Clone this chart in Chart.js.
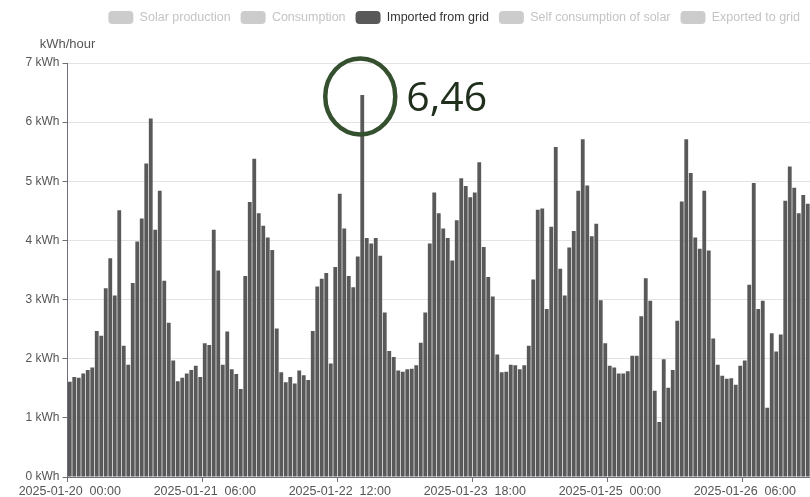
<!DOCTYPE html>
<html>
<head>
<meta charset="utf-8">
<title>Imported from grid</title>
<script src="https://cdn.jsdelivr.net/npm/chart.js@4.4.1/dist/chart.umd.min.js"></script>
<style>
  html, body { margin: 0; padding: 0; background: #fff; }
  #wrap { width: 810px; height: 497px; }
</style>
</head>
<body>
<div id="wrap"><canvas id="energyChart" width="810" height="497"></canvas></div>
<script>
// Hourly energy from 2025-01-20 00:00 (kWh per hour)
const seriesNames = ["Solar production", "Consumption", "Imported from grid", "Self consumption of solar", "Exported to grid"]

const importedFromGrid = [
  1.61, 1.69, 1.68, 1.75, 1.81, 1.85, 2.47, 2.39, 3.19, 3.70, 3.07, 4.51, 2.22, 1.90, 3.28, 3.98, 4.37, 5.30, 6.06, 4.18, 4.84, 3.32, 2.61, 1.97,
  1.62, 1.68, 1.75, 1.81, 1.88, 1.69, 2.26, 2.23, 4.18, 3.49, 1.90, 2.46, 1.82, 1.74, 1.49, 3.40, 4.65, 5.38, 4.46, 4.25, 4.05, 3.84, 2.51, 1.77,
  1.60, 1.69, 1.58, 1.80, 1.72, 1.64, 2.47, 3.22, 3.35, 3.45, 1.92, 3.55, 4.79, 4.20, 3.40, 3.21, 3.73, 6.46, 4.04, 3.95, 4.04, 3.74, 2.78, 2.13,
  2.03, 1.80, 1.78, 1.82, 1.83, 1.89, 2.27, 2.78, 3.95, 4.81, 4.46, 4.20, 4.04, 3.66, 4.34, 5.05, 4.92, 4.73, 4.81, 5.32, 3.89, 3.38, 3.05, 2.07,
  1.77, 1.78, 1.90, 1.89, 1.82, 1.89, 2.22, 3.34, 4.52, 4.54, 2.84, 4.23, 5.58, 3.52, 3.07, 3.88, 4.16, 4.84, 5.71, 4.93, 4.07, 4.28, 2.99, 2.26,
  1.88, 1.85, 1.75, 1.75, 1.79, 2.05, 2.05, 2.72, 3.36, 2.98, 1.46, 0.93, 1.99, 1.51, 1.81, 2.64, 4.66, 5.71, 5.14, 4.05, 3.86, 4.84, 3.83, 2.34,
  1.90, 1.71, 1.66, 1.67, 1.56, 1.88, 1.97, 3.25, 4.97, 2.84, 2.98, 1.17, 2.43, 2.12, 2.41, 4.67, 5.25, 4.89, 4.46, 4.77, 4.62
]

// the other series are switched off in the legend
const solarProduction = []
const consumption = []
const selfConsumption = []
const exportedToGrid = []

const tickLabels = ["2025-01-20  00:00", "2025-01-21  06:00", "2025-01-22  12:00", "2025-01-23  18:00", "2025-01-25  00:00", "2025-01-26  06:00"]
const yTicks = [0, 1, 2, 3, 4, 5, 6, 7]

// one category per hour
const hours = importedFromGrid.map((_, i) => {
  const d = new Date(Date.UTC(2025, 0, 20, i))
  return d.toISOString().slice(0, 10) + "  " + String(d.getUTCHours()).padStart(2, "0") + ":00"
})

const axisColor = "#6e7079"
const textColor = "#555555"
const barColor = "#595959"
const offColor = "#cccccc"

Chart.defaults.font.family = "'Liberation Sans', Arial, sans-serif"

// y axis name drawn above the axis
const axisName = {
  id: "axisName",
  afterDraw(chart) {
    const ctx = chart.ctx
    ctx.save()
    ctx.font = "13px 'Liberation Sans', Arial, sans-serif"
    ctx.fillStyle = textColor
    ctx.textAlign = "center"
    ctx.textBaseline = "middle"
    ctx.fillText("kWh/hour", chart.chartArea.left, 44)
    ctx.restore()
  },
}

// circle + value on the highest bar
const peakCallout = {
  id: "peakCallout",
  afterDatasetsDraw(chart) {
    const peak = Math.max(...importedFromGrid)
    const idx = importedFromGrid.indexOf(peak)
    const x = chart.scales.x.getPixelForValue(idx)
    const y = chart.scales.y.getPixelForValue(peak)
    const ctx = chart.ctx
    ctx.save()
    ctx.beginPath()
    ctx.ellipse(x - 2, y + 1.5, 35, 38, 0, 0, Math.PI * 2)
    ctx.lineWidth = 4.5
    ctx.strokeStyle = "#35502f"
    ctx.stroke()
    ctx.font = "41px 'Open Sans', sans-serif"
    ctx.fillStyle = "#1f2f1c"
    ctx.textAlign = "left"
    ctx.textBaseline = "alphabetic"
    ctx.fillText(peak.toFixed(2).replace(".", ","), x + 44, y + 16)
    ctx.restore()
  },
}

const makeSet = (i, data, hidden) => ({
  label: seriesNames[i],
  data: data,
  hidden: hidden,
  backgroundColor: barColor,
  borderWidth: 0,
  grouped: false,
  barPercentage: 0.85,
  categoryPercentage: 1,
})

new Chart(document.getElementById("energyChart"), {
  type: "bar",
  data: {
    labels: hours,
    datasets: [
      makeSet(0, solarProduction, true),
      makeSet(1, consumption, true),
      makeSet(2, importedFromGrid, false),
      makeSet(3, selfConsumption, true),
      makeSet(4, exportedToGrid, true),
    ],
  },
  options: {
    responsive: false,
    animation: false,
    devicePixelRatio: 1,
    layout: { padding: { top: 1 } },
    plugins: {
      tooltip: { enabled: false },
      legend: {
        position: "top",
        align: "end",
        labels: {
          boxWidth: 25,
          boxHeight: 13,
          padding: 10,
          useBorderRadius: true,
          borderRadius: 4,
          font: { size: 12.5 },
          generateLabels: (chart) =>
            chart.data.datasets.map((ds, i) => ({
              text: ds.label,
              datasetIndex: i,
              hidden: false,
              fillStyle: ds.hidden ? offColor : barColor,
              strokeStyle: "transparent",
              lineWidth: 0,
              borderRadius: 4,
              fontColor: ds.hidden ? "#c4c4c4" : "#333333",
            })),
        },
      },
      subtitle: {
        display: true,
        text: "",
        weight: 900,
        padding: { top: 0, bottom: 14.6 },
        font: { size: 12 },
      },
    },
    scales: {
      x: {
        offset: true,
        afterFit: (scale) => { scale.height = 20 },
        border: { display: true, color: axisColor },
        grid: {
          offset: true,
          drawOnChartArea: false,
          drawTicks: true,
          tickLength: 5,
          tickColor: (c) => (tickLabels.includes(hours[c.index]) ? axisColor : "transparent"),
        },
        ticks: {
          autoSkip: false,
          maxRotation: 0,
          minRotation: 0,
          padding: 2,
          color: textColor,
          font: { size: 12.5 },
          callback: (val, i) => (tickLabels.includes(hours[i]) ? hours[i] : ""),
        },
      },
      y: {
        min: yTicks[0],
        max: yTicks[yTicks.length - 1],
        afterFit: (scale) => { scale.width = 67.5 },
        border: { display: true, color: axisColor },
        grid: { color: "#e3e3e3", tickColor: axisColor, tickLength: 5 },
        ticks: {
          stepSize: 1,
          padding: 3,
          color: textColor,
          font: { size: 12 },
          callback: (v) => v + " kWh",
        },
      },
    },
  },
  plugins: [axisName, peakCallout],
})
</script>
</body>
</html>
